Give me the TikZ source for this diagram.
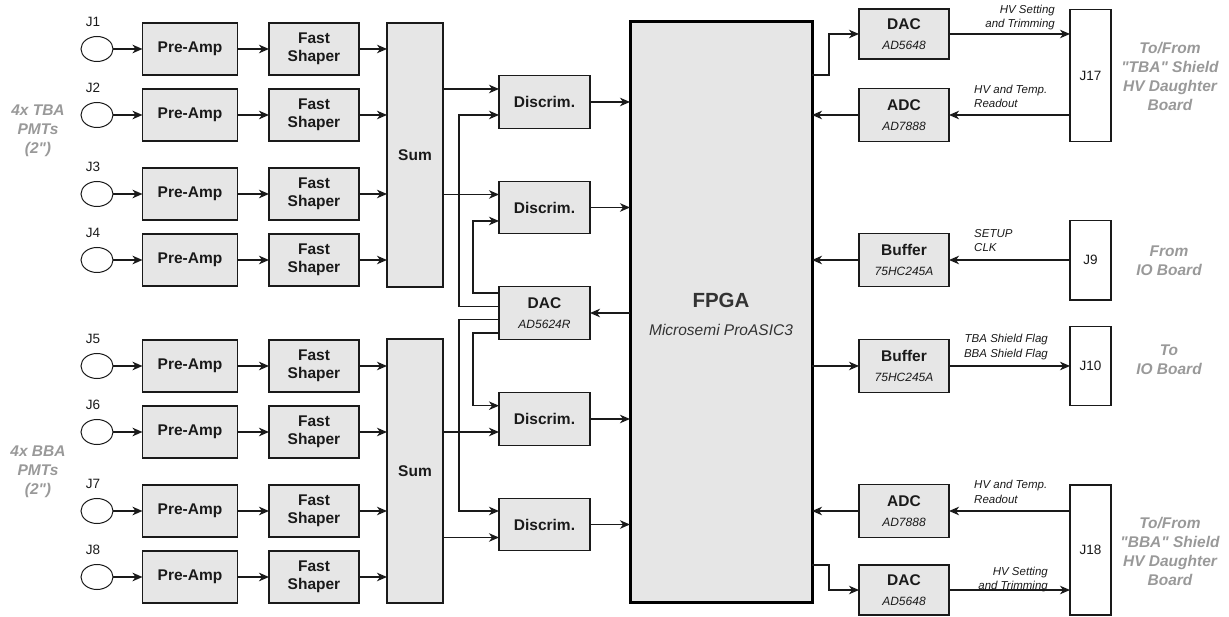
\documentclass[tikz,border=0pt]{standalone}
\usepackage{fontspec}
\setmainfont{Liberation Sans}[Ligatures=TeXOff]
\usetikzlibrary{arrows.meta,shapes.geometric,calc}
\definecolor{boxfill}{HTML}{E6E6E6}
\definecolor{lblgray}{HTML}{999999}
\definecolor{fpgatext}{HTML}{333333}
\definecolor{ink}{HTML}{1A1A1A}
\newcommand{\subtxt}[1]{{\fontsize{12}{14}\selectfont\mdseries\itshape #1}}
\begin{document}
\begin{tikzpicture}[x=1pt,y=-1pt,
  box/.style={draw=ink,fill=boxfill,line width=1.2pt,inner sep=0pt,outer sep=0pt,align=center,
    font=\fontsize{15.5}{18.5}\selectfont\bfseries,text=ink},
  conbox/.style={draw=ink,fill=white,line width=1.2pt,inner sep=0pt,outer sep=0pt,
    font=\fontsize{13.5}{16}\selectfont,text=ink},
  jcirc/.style={ellipse,draw=ink,fill=white,line width=1pt,minimum width=32,minimum height=25,inner sep=0pt,outer sep=0pt},
  jlbl/.style={font=\fontsize{13.5}{16}\selectfont,text=ink,inner sep=0pt},
  small/.style={font=\fontsize{11.5}{14.5}\selectfont\itshape,text=ink,inner sep=0pt},
  glbl/.style={font=\fontsize{15.5}{19}\selectfont\bfseries\itshape,text=lblgray,align=center,inner sep=0pt},
  conn/.style={draw=ink,line width=1.2pt},
  arr/.style={conn,-{Stealth[length=10pt,width=8.5pt,inset=3pt]}},
  arrb/.style={arr,line width=1.6pt}
]
\useasboundingbox (0,0) rectangle (1229,617);

% sums
\node[box,minimum width=56,minimum height=264] (sum1) at (415,155) {Sum};
\node[box,minimum width=56,minimum height=264] (sum2) at (415,471) {Sum};

% input rows
\foreach \i/\y in {1/49,2/115,3/194,4/260,5/366,6/432,7/511,8/577}{
  \node[jcirc] (c\i) at (97,\y) {};
  \node[jlbl] (jl\i) at (93,{\y-27}) {J\i};
  \node[box,minimum width=95,minimum height=52] (pa\i) at (190,\y) {Pre-Amp};
  \node[box,minimum width=90,minimum height=52] (fs\i) at (314,\y) {Fast\\Shaper};
  \draw[arrb] (c\i.east) -- (pa\i.west);
  \draw[arrb] (pa\i.east) -- (fs\i.west);
}
\foreach \i in {1,2,3,4}{\draw[arr] (fs\i.east) -- (fs\i.east -| sum1.west);}
\foreach \i in {5,6,7,8}{\draw[arr] (fs\i.east) -- (fs\i.east -| sum2.west);}

% left group labels
\node[glbl] (tbal) at (38,130.5) {4x TBA\\PMTs\\(2")};
\node[glbl] (bbal) at (38,472) {4x BBA\\PMTs\\(2")};

% discriminators and DAC
\node[box,minimum width=91,minimum height=52.5] (d1) at (544.5,102) {Discrim.};
\node[box,minimum width=91,minimum height=52.5] (d2) at (544.5,207.5) {Discrim.};
\node[box,minimum width=91,minimum height=52.5] (dacm) at (544.5,313) {DAC\\[1pt]\subtxt{AD5624R}};
\node[box,minimum width=91,minimum height=52.5] (d3) at (544.5,419) {Discrim.};
\node[box,minimum width=91,minimum height=52.5] (d4) at (544.5,524.5) {Discrim.};

% FPGA
\node[draw=black,fill=boxfill,line width=3pt,minimum width=182,minimum height=580,inner sep=0pt,outer sep=0pt] (fpga) at (721,312) {};
\node[text=fpgatext,inner sep=0pt,font=\fontsize{20.5}{24}\selectfont\bfseries] (fpgat) at ($(fpga.center)+(0,-12)$) {FPGA};
\node[text=fpgatext,inner sep=0pt,font=\fontsize{15.5}{18}\selectfont\itshape] (fpgas) at ($(fpga.center)+(0,18)$) {Microsemi ProASIC3};

% sum -> discrim
\draw[arr] (sum1.east |- {$(d1.west)+(0,-13)$}) -- ($(d1.west)+(0,-13)$);
\draw[arr] (sum1.east |- {$(d2.west)+(0,-13)$}) -- ($(d2.west)+(0,-13)$);
\draw[arr] (sum2.east |- {$(d3.west)+(0,13)$}) -- ($(d3.west)+(0,13)$);
\draw[arr] (sum2.east |- {$(d4.west)+(0,13)$}) -- ($(d4.west)+(0,13)$);

% DAC -> discrim thresholds
\draw[arr] ($(dacm.west)+(0,-20)$) -| ($(d2.west)+(-26,13.5)$) -- ($(d2.west)+(0,13.5)$);
\draw[arr] ($(dacm.west)+(0,-6.7)$) -| ($(d1.west)+(-40,13)$) -- ($(d1.west)+(0,13)$);
\draw[arr] ($(dacm.west)+(0,6.7)$) -| ($(d4.west)+(-40,-13.5)$) -- ($(d4.west)+(0,-13.5)$);
\draw[arr] ($(dacm.west)+(0,20)$) -| ($(d3.west)+(-26,-13.3)$) -- ($(d3.west)+(0,-13.3)$);

% discrim -> FPGA
\foreach \n in {d1,d2,d3,d4}{\draw[arr] (\n.east) -- (\n.east -| fpga.west);}
\draw[arr] (fpga.west |- dacm.east) -- (dacm.east);

% right side blocks
\node[box,minimum width=90,minimum height=50] (dac1) at (904,34) {DAC\\[1pt]\subtxt{AD5648}};
\node[box,minimum width=90,minimum height=52.5] (adc1) at (904,115) {ADC\\[1pt]\subtxt{AD7888}};
\node[box,minimum width=90,minimum height=53] (buf1) at (904,260) {Buffer\\[1pt]\subtxt{75HC245A}};
\node[box,minimum width=90,minimum height=53] (buf2) at (904,366) {Buffer\\[1pt]\subtxt{75HC245A}};
\node[box,minimum width=90,minimum height=52.5] (adc2) at (904,511) {ADC\\[1pt]\subtxt{AD7888}};
\node[box,minimum width=90,minimum height=50] (dac2) at (904,590) {DAC\\[1pt]\subtxt{AD5648}};

\node[conbox,minimum width=41,minimum height=132.4] (j17) at (1090.5,75.5) {J17};
\node[conbox,minimum width=41,minimum height=79.3] (j9) at (1090.5,260.3) {J9};
\node[conbox,minimum width=41,minimum height=79] (j10) at (1090.5,366.2) {J10};
\node[conbox,minimum width=41,minimum height=130] (j18) at (1090.5,550) {J18};

% right connections
\draw[arr] ($(fpga.north east)+(0,53)$) -- ++(17,0) |- (dac1.west);
\draw[arr] (dac1.east) -- (dac1.east -| j17.west);
\draw[arr] (adc1.east -| j17.west) -- (adc1.east);
\draw[arr] (adc1.west) -- (adc1.west -| fpga.east);
\draw[arr] (buf1.east -| j9.west) -- (buf1.east);
\draw[arr] (buf1.west) -- (buf1.west -| fpga.east);
\draw[arr] (fpga.east |- buf2.west) -- (buf2.west);
\draw[arr] (buf2.east) -- (buf2.east -| j10.west);
\draw[arr] (adc2.east -| j18.west) -- (adc2.east);
\draw[arr] (adc2.west) -- (adc2.west -| fpga.east);
\draw[arr] ($(fpga.south east)+(0,-37)$) -- ++(17,0) |- (dac2.west);
\draw[arr] (dac2.east) -- (dac2.east -| j18.west);

% signal labels
\node[small,align=right,anchor=east] (l1) at (1055,17.5) {HV Setting\\and Trimming};
\node[small,align=left,anchor=west] (l2) at (974,96.5) {HV and Temp.\\Readout};
\node[small,align=left,anchor=west] (l3) at (974,240.5) {SETUP\\CLK};
\node[small,align=right,anchor=east] (l4) at (1048,347) {TBA Shield Flag\\BBA Shield Flag};
\node[small,align=left,anchor=west] (l5) at (974,492) {HV and Temp.\\Readout};
\node[small,align=right,anchor=east] (l6) at (1048,579.5) {HV Setting\\and Trimming};

% right group labels
\node[glbl] (g1) at (1170,76.5) {To/From\\"TBA" Shield\\HV Daughter\\Board};
\node[glbl] (g2) at (1169,260.5) {From\\IO Board};
\node[glbl] (g3) at (1169,360) {To\\IO Board};
\node[glbl] (g4) at (1170,551.5) {To/From\\"BBA" Shield\\HV Daughter\\Board};
\end{tikzpicture}
\end{document}
